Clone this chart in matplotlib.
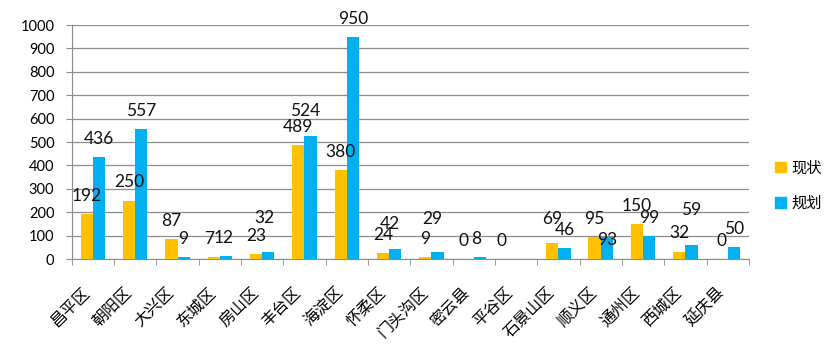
import numpy as np
import matplotlib.pyplot as plt
from matplotlib.patches import Patch

plt.rcParams['font.family'] = ['Noto Sans CJK SC', 'DejaVu Sans']

districts = ['昌平区', '朝阳区', '大兴区', '东城区', '房山区', '丰台区', '海淀区', '怀柔区',
             '门头沟区', '密云县', '平谷区', '石景山区', '顺义区', '通州区', '西城区', '延庆县']
current = [192, 250, 87, 7, 23, 489, 380, 24, 9, 0, 0, 69, 95, 150, 32, 0]
planned = [436, 557, 9, 12, 32, 524, 950, 42, 29, 8, np.nan, 46, 93, 99, 59, 50]

# label nudges (points) where the labels were pushed around to avoid overlap
cur_dy = [0, 0, 0, 0, 0, 0, 0, 0, 0, 0, 0, 4, 0, 0, 0, 0]
cur_dx = [0, 0, 0, -3, 0, 0, 0, 0, 0, -3, -6, 0, 0, 0, 0, 0]
plan_dy = [0, 0, 0, 0, 11, 5, 0, 5, 11, 0, 0, 0, -15, 0, 12, 0]
plan_dx = [0, 0, 0, -2, -3, -4, 0, -4, -4, -3, 0, 0, 0, 0, 0, 0]

yellow = '#FFC000'
blue = '#00B0F0'
num_font = ['Liberation Sans Narrow', 'Lato', 'DejaVu Sans']

fig = plt.figure(figsize=(8.37, 3.58), dpi=100)
ax = fig.add_axes([0.0857, 0.2765, 0.809, 0.6535])

x = np.arange(len(districts))
w = 0.29
ax.bar(x - w / 2, current, w, color=yellow, linewidth=0, zorder=3)
ax.bar(x + w / 2, planned, w, color=blue, linewidth=0, zorder=3)

for i in range(len(districts)):
    ax.annotate(str(current[i]), (x[i] - w / 2, current[i]),
                xytext=(cur_dx[i], 13 + cur_dy[i]), textcoords='offset points',
                ha='center', va='center', fontsize=12.5, family=num_font, color='#111111')
    if not np.isnan(planned[i]):
        ax.annotate(str(int(planned[i])), (x[i] + w / 2, planned[i]),
                    xytext=(plan_dx[i], 13 + plan_dy[i]), textcoords='offset points',
                    ha='center', va='center', fontsize=12.5, family=num_font, color='#111111')

ax.set_xlim(-0.5, len(districts) - 0.5)
ax.set_ylim(0, 1000)
ax.set_yticks(np.arange(0, 1001, 100))
ax.set_yticklabels([str(v) for v in range(0, 1001, 100)], family=['Lato', 'DejaVu Sans'], fontsize=10.5)
ax.yaxis.grid(True, color='#8c8c8c', linewidth=0.9, zorder=0)

ax.set_xticks(x)
ax.set_xticklabels(districts, rotation=45, ha='right', fontsize=11.5)
ax.set_xticks(np.arange(-0.5, len(districts)), minor=True)
ax.tick_params(axis='x', which='major', length=0, pad=18)
ax.tick_params(axis='x', which='minor', length=4, color='#8c8c8c', direction='out')
ax.tick_params(axis='y', length=4.5, color='#8c8c8c', pad=8, direction='out')

for s in ['top', 'right']:
    ax.spines[s].set_visible(False)
ax.spines['left'].set_color('#8c8c8c')
ax.spines['bottom'].set_color('#8c8c8c')

handles = [Patch(color=yellow, label='现状'), Patch(color=blue, label='规划')]
fig.legend(handles=handles, loc='center left', bbox_to_anchor=(0.926, 0.482),
           frameon=False, fontsize=11, borderpad=0, borderaxespad=0,
           handlelength=0.7, handleheight=0.7, handletextpad=0.35, labelspacing=1.2)

fig.savefig('out.png', dpi=100)
